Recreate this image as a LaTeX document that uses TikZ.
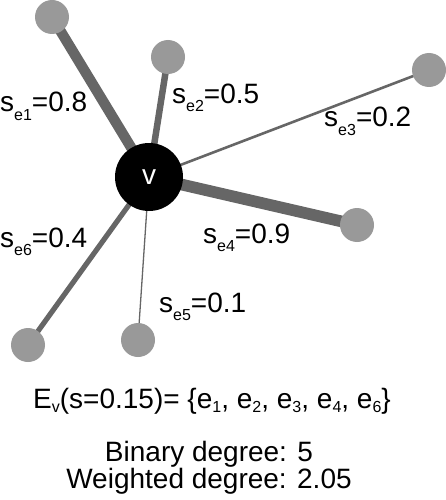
\documentclass[tikz,border=0pt]{standalone}
\usepackage{fontspec}
\setmainfont{Liberation Sans}
\usetikzlibrary{backgrounds}
\newcommand{\lowsub}[2][8.5pt]{\raisebox{-#1}{\fontsize{16}{16}\selectfont #2}}
\begin{document}
\begin{tikzpicture}[x=1pt, y=-1pt,
  every node/.style={font=\fontsize{28}{28}\selectfont, inner sep=0pt},
  leaf/.style={circle, fill=black!40, minimum size=34pt},
  hub/.style={circle, fill=black, text=white, minimum size=68pt},
  link/.style={draw=black!60, line width=#1},
  wlabel/.style={anchor=base west}]
\useasboundingbox (0,0) rectangle (445,500);
% vertex and its neighbours
\node[hub] (v) at (149,177) {v};
\node[leaf] (n1) at (52,17) {};
\node[leaf] (n2) at (168,57) {};
\node[leaf] (n3) at (429,70) {};
\node[leaf] (n4) at (357,225) {};
\node[leaf] (n5) at (138,340) {};
\node[leaf] (n6) at (28,345) {};
\begin{scope}[on background layer]
\draw[link=10.4pt] (v.center) -- (n1.center);
\draw[link=6.5pt] (v.center) -- (n2.center);
\draw[link=2.6pt] (v.center) -- (n3.center);
\draw[link=11.7pt] (v.center) -- (n4.center);
\draw[link=1.3pt] (v.center) -- (n5.center);
\draw[link=5.2pt] (v.center) -- (n6.center);
\end{scope}
% edge weights
\node[wlabel] (w1) at (0,112) {s\lowsub{e1}=0.8};
\node[wlabel] (w2) at (172,103) {s\lowsub{e2}=0.5};
\node[wlabel] (w3) at (324,127) {s\lowsub{e3}=0.2};
\node[wlabel] (w4) at (203,243) {s\lowsub{e4}=0.9};
\node[wlabel] (w5) at (159,312) {s\lowsub{e5}=0.1};
\node[wlabel] (w6) at (0,247) {s\lowsub{e6}=0.4};
% summary
\node[wlabel] (set) at (33,408) {E\lowsub[4.5pt]{v}(s=0.15)= \{e\lowsub[4.5pt]{1}, e\lowsub[4.5pt]{2}, e\lowsub[4.5pt]{3}, e\lowsub[4.5pt]{4}, e\lowsub[4.5pt]{6}\}};
\node[anchor=base] (bin) at (209,461) {Binary degree: 5};
\node[anchor=base] (wdeg) at (209,488) {Weighted degree: 2.05};
\end{tikzpicture}
\end{document}
